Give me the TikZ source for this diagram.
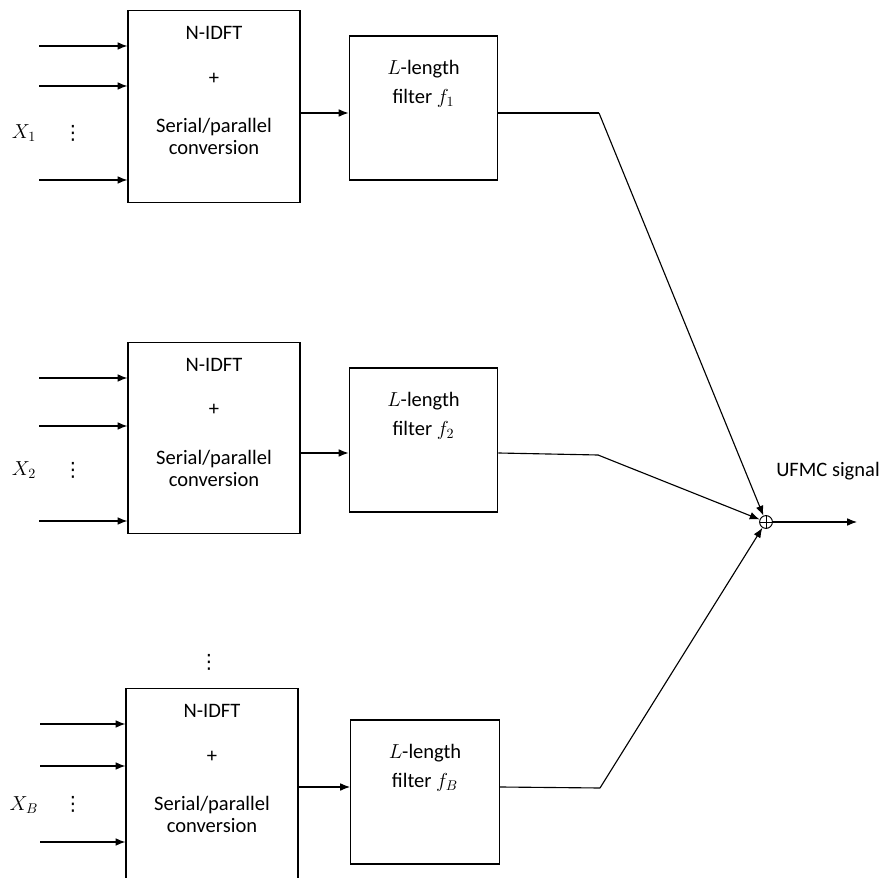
\documentclass[tikz,border=0pt]{standalone}
\usepackage{fontspec}
\setmainfont{Carlito}
\newfontfamily\symfont{DejaVu Sans}
\usetikzlibrary{arrows.meta,positioning,calc}

\begin{document}
\begin{tikzpicture}[x=0.025cm, y=-0.025cm,
    font=\fontsize{14.6}{15.6}\selectfont,
    block/.style={rectangle, draw, line width=0.8pt, minimum width=4.3cm, minimum height=4.78cm, inner sep=0pt},
    filt/.style={rectangle, draw, line width=0.8pt, minimum width=3.72cm, minimum height=3.6cm, inner sep=0pt},
    blktext/.style={align=center, inner sep=0pt},
    dots/.style={inner sep=0pt, font=\symfont\fontsize{14}{14}\selectfont},
    arrow/.style={->, >={Latex[length=7pt,width=5.5pt]}, line width=0.8pt},
    wire/.style={line width=0.8pt},
    adder/.style={circle, draw, line width=0.7pt, minimum size=0.32cm, inner sep=0pt,
        path picture={\draw[line width=0.6pt] (path picture bounding box.north) -- (path picture bounding box.south)
            (path picture bounding box.west) -- (path picture bounding box.east);}}]

    \useasboundingbox (0,0) rectangle (895,878);

    % first sub-band
    \node[block] (idft1) at (214,106.5) {};
    \node[blktext, below=0.4cm of idft1.north] (t1) {N-IDFT\\[16pt]+\\[19pt]Serial/parallel\\conversion};
    \node[filt] (filt1) at (423.5,108) {};
    \node[blktext, below=0.62cm of filt1.north] (ft1) {$L$-length\\[5pt]filter $f_1$};
    \node (x1) at (24,133) {$X_1$};
    \node[dots] (d1) at (73,133) {⋮};
    \foreach \y [count=\k] in {46,86,180} {
        \coordinate (a1\k) at (39,\y);
        \draw[arrow] (a1\k) -- (a1\k -| idft1.west);
    }

    % second sub-band
    \node[block] (idft2) at (214,438) {};
    \node[blktext, below=0.4cm of idft2.north] (t2) {N-IDFT\\[16pt]+\\[19pt]Serial/parallel\\conversion};
    \node[filt] (filt2) at (423.5,440) {};
    \node[blktext, below=0.62cm of filt2.north] (ft2) {$L$-length\\[5pt]filter $f_2$};
    \node (x2) at (24,470) {$X_2$};
    \node[dots] (d2) at (73,470) {⋮};
    \foreach \y [count=\k] in {378,426,521} {
        \coordinate (a2\k) at (39,\y);
        \draw[arrow] (a2\k) -- (a2\k -| idft2.west);
    }

    \node[dots] (dmid) at (209,662) {⋮};

    % last sub-band
    \node[block] (idft3) at (212,784.5) {};
    \node[blktext, below=0.4cm of idft3.north] (t3) {N-IDFT\\[16pt]+\\[19pt]Serial/parallel\\conversion};
    \node[filt] (filt3) at (425,792) {};
    \node[blktext, below=0.62cm of filt3.north] (ft3) {$L$-length\\[5pt]filter $f_B$};
    \node (x3) at (24,805) {$X_B$};
    \node[dots] (d3) at (73,804) {⋮};
    \foreach \y [count=\k] in {724,766,842} {
        \coordinate (a3\k) at (40,\y);
        \draw[arrow] (a3\k) -- (a3\k -| idft3.west);
    }

    % block to filter
    \coordinate (o1) at (300,113);
    \coordinate (o2) at (300,453);
    \coordinate (o3) at (298,787);
    \draw[arrow] (o1 -| idft1.east) -- (o1 -| filt1.west);
    \draw[arrow] (o2 -| idft2.east) -- (o2 -| filt2.west);
    \draw[arrow] (o3 -| idft3.east) -- (o3 -| filt3.west);

    % sum
    \node[adder] (sum) at (766,522) {};
    \coordinate (k1) at (599,113);
    \coordinate (k2) at (598,455);
    \coordinate (k3) at (600,788);
    \draw[wire] (o1 -| filt1.east) -- (k1);
    \draw[wire] (o2 -| filt2.east) -- (k2);
    \draw[wire] (o3 -| filt3.east) -- (k3);
    \draw[arrow] (k1) -- (sum);
    \draw[arrow] (k2) -- (sum);
    \draw[arrow] (k3) -- (sum);

    \coordinate (out) at (857,522);
    \draw[arrow] (sum) -- (out);
    \node (ufmc) at (828,471) {UFMC signal};
\end{tikzpicture}
\end{document}
